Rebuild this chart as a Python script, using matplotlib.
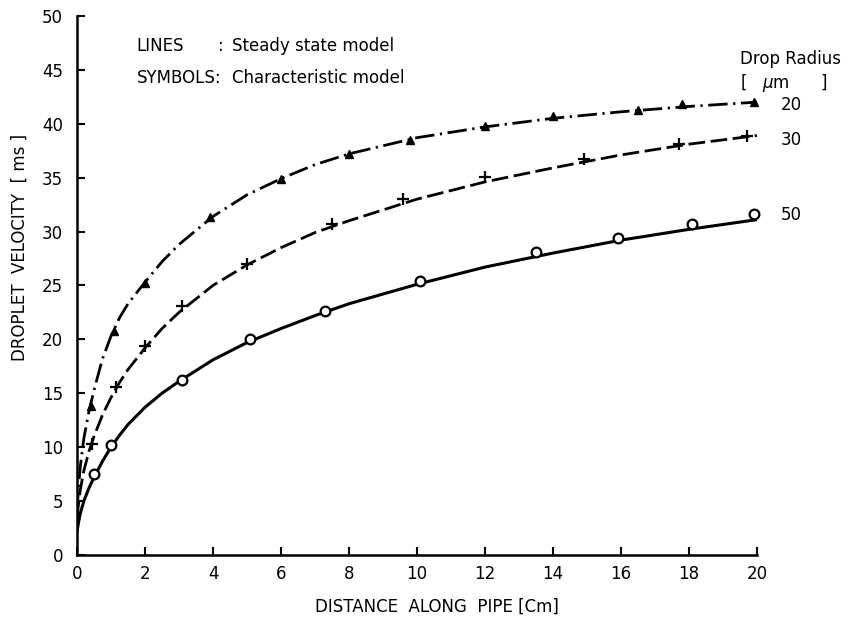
import numpy as np
import matplotlib
matplotlib.use("Agg")
import matplotlib.pyplot as plt

# steady state model curves
x_line = [0, 0.05, 0.1, 0.2, 0.35, 0.5, 0.75, 1, 1.25, 1.5, 2, 2.5, 3, 4, 5, 6, 7, 8,
          10, 12, 14, 16, 18, 20]
y_line_20 = [4.0, 6.5, 8.3, 10.8, 13.3, 15.3, 18.2, 20.3, 22.0, 23.3, 25.3, 27.2, 28.8,
             31.4, 33.4, 34.9, 36.2, 37.2, 38.7, 39.7, 40.5, 41.1, 41.6, 42.0]
y_line_30 = [3.5, 4.9, 6.1, 7.8, 9.6, 11.0, 13.0, 14.6, 16.0, 17.2, 19.2, 21.0, 22.5,
             25.0, 26.9, 28.5, 29.9, 31.0, 33.0, 34.6, 35.9, 37.1, 38.1, 38.9]
y_line_50 = [2.2, 3.1, 3.9, 5.0, 6.2, 7.2, 8.7, 10.0, 11.1, 12.1, 13.7, 15.0, 16.1,
             18.1, 19.7, 21.0, 22.2, 23.3, 25.1, 26.7, 28.0, 29.2, 30.2, 31.1]

# characteristic model symbols
x_tri = [0.4, 1.1, 2.0, 3.9, 6.0, 8.0, 9.8, 12.0, 14.0, 16.5, 17.8, 19.9]
y_tri = [13.8, 20.8, 25.2, 31.3, 34.9, 37.2, 38.5, 39.8, 40.7, 41.3, 41.8, 42.0]
x_plus = [0.45, 1.15, 2.0, 3.1, 5.0, 7.5, 9.6, 12.0, 14.9, 17.7, 19.7]
y_plus = [10.3, 15.6, 19.4, 23.1, 27.0, 30.7, 33.0, 35.1, 36.7, 38.1, 38.9]
x_circ = [0.5, 1.0, 3.1, 5.1, 7.3, 10.1, 13.5, 15.9, 18.1, 19.9]
y_circ = [7.5, 10.2, 16.2, 20.0, 22.6, 25.4, 28.1, 29.4, 30.7, 31.6]

radius_labels = ['20', '30', '50']
radius_label_y = [41.7, 38.5, 31.5]

plt.rcParams['font.family'] = 'DejaVu Sans'

fig = plt.figure(figsize=(8.51, 6.24), dpi=100)
ax = fig.add_axes([0.0905, 0.1106, 0.799, 0.864])

# lines
ax.plot(x_line, y_line_20, color='black', lw=2, dashes=(7, 2, 0.8, 2))
ax.plot(x_line, y_line_30, color='black', lw=2, dashes=(6, 2))
ax.plot(x_line, y_line_50, color='black', lw=2.2)

# symbols
ax.plot(x_tri, y_tri, ls='none', marker='^', ms=5.5, color='black', clip_on=False)
ax.plot(x_plus, y_plus, ls='none', marker='+', ms=8, mew=1.6, color='black', clip_on=False)
ax.plot(x_circ, y_circ, ls='none', marker='o', ms=7, mew=1.6, mfc='white', mec='black',
        clip_on=False)

ax.set_xlim(0, 20)
ax.set_ylim(0, 50)
ax.set_xticks(np.arange(0, 21, 2))
ax.set_yticks(np.arange(0, 51, 5))
for s in ['top', 'right']:
    ax.spines[s].set_visible(False)
for s in ['left', 'bottom']:
    ax.spines[s].set_linewidth(1.8)
ax.tick_params(axis='both', direction='in', length=6, width=1.5, labelsize=12)
ax.tick_params(axis='y', pad=10)
ax.tick_params(axis='x', pad=7)

# legend text
ax.text(1.76, 47.2, 'LINES', fontsize=12, va='center')
ax.text(4.15, 47.2, ':', fontsize=12, va='center')
ax.text(4.56, 47.2, 'Steady state model', fontsize=12, va='center')
ax.text(1.76, 44.2, 'SYMBOLS:', fontsize=12, va='center')
ax.text(4.56, 44.2, 'Characteristic model', fontsize=12, va='center')

# drop radius labels
ax.text(19.5, 46.0, 'Drop Radius', fontsize=12, va='center', clip_on=False)
ax.text(19.5, 43.8, '[   $\\mu$m      ]', fontsize=12, va='center', clip_on=False)
for lab, yy in zip(radius_labels, radius_label_y):
    ax.text(20.7, yy, lab, fontsize=12, va='center', clip_on=False)

fig.text(437 / 851, 1 - 607 / 624, 'DISTANCE  ALONG  PIPE [Cm]', fontsize=12,
         ha='center', va='center')
fig.text(20 / 851, 1 - 247 / 624, 'DROPLET  VELOCITY  [ ms ]', fontsize=12,
         ha='center', va='center', rotation=90)

fig.savefig('out.png', dpi=100)
